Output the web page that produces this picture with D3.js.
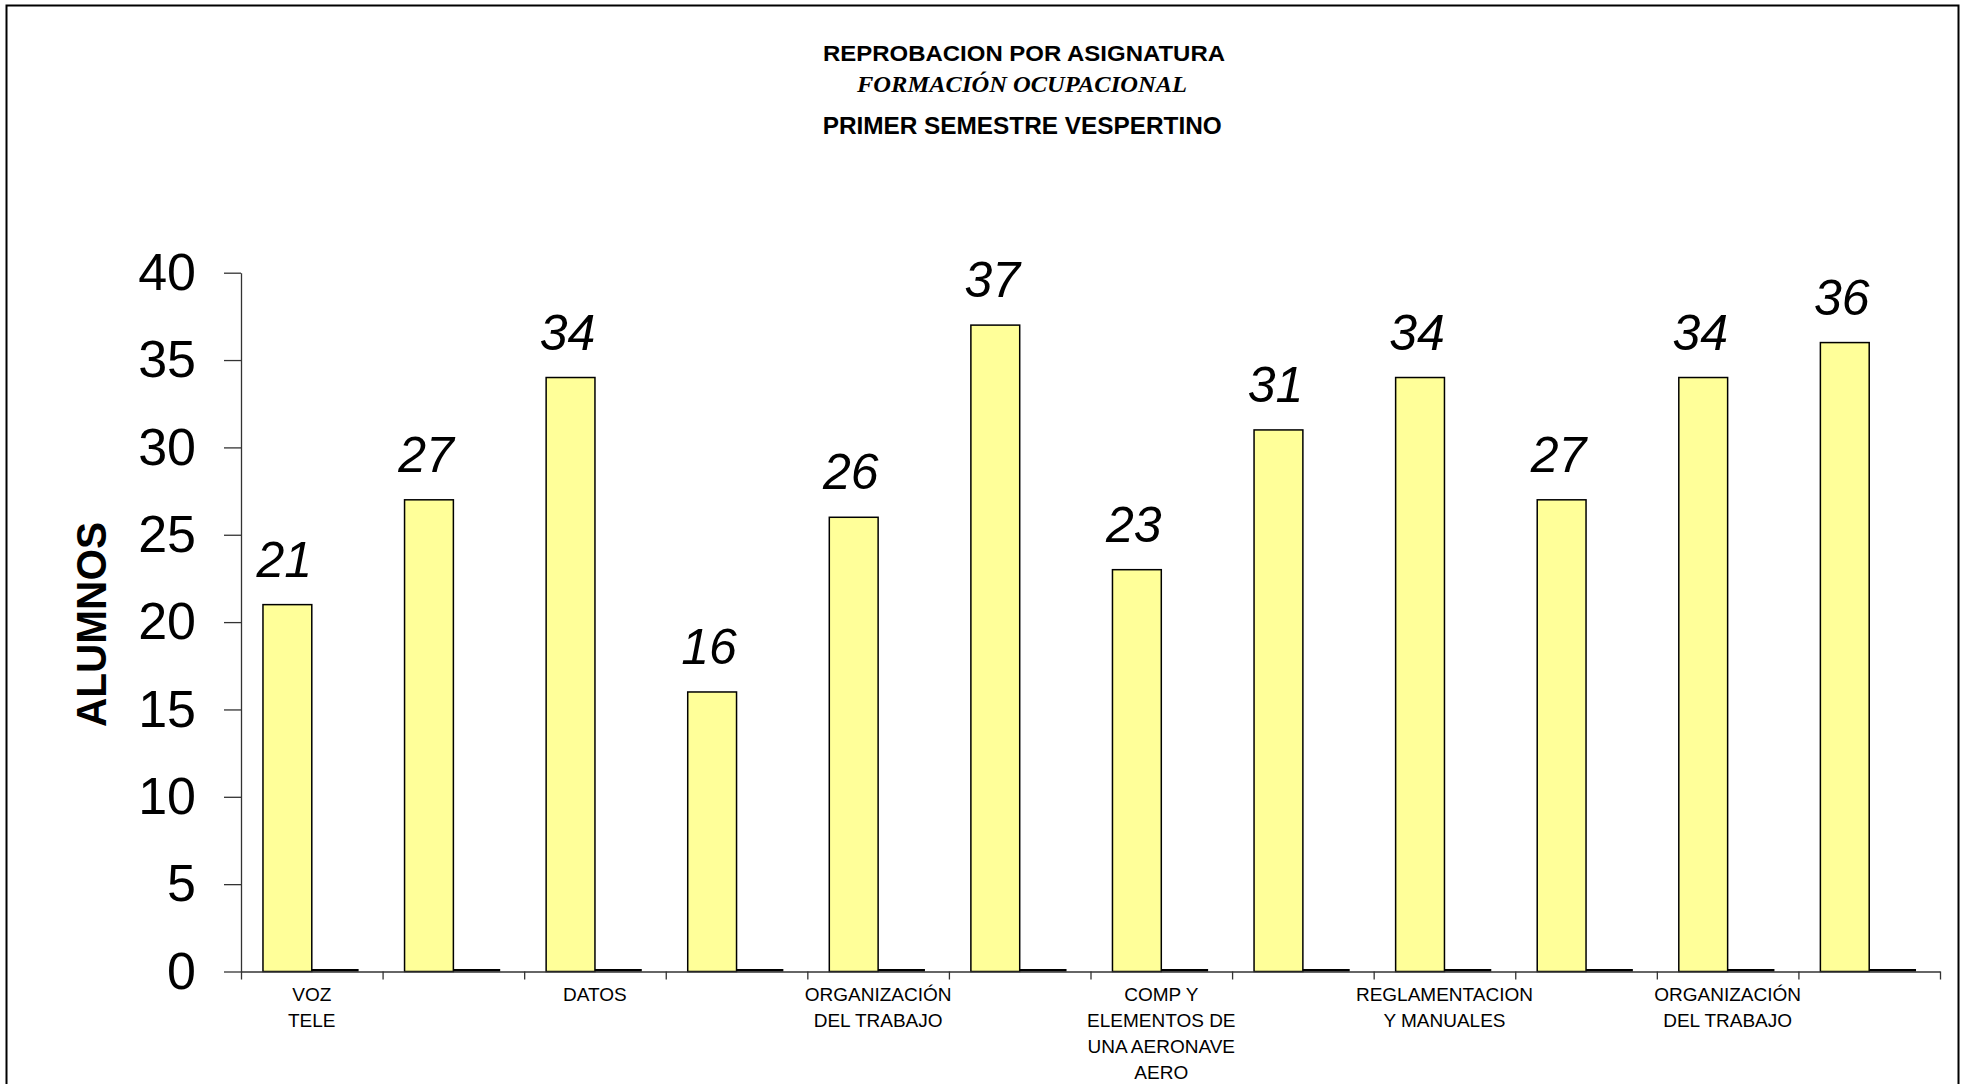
<!DOCTYPE html>
<html>
<head>
<meta charset="utf-8">
<script src="https://cdn.jsdelivr.net/npm/d3@7"></script>
<style>
  html, body { margin: 0; padding: 0; background: #fff; }
  svg { display: block; }
</style>
</head>
<body>
<script>
// ---- data ----
const categories = [
  "VOZ\nTELE", "", "DATOS", "", "ORGANIZACIÓN\nDEL TRABAJO", "",
  "COMP Y\nELEMENTOS DE\nUNA AERONAVE\nAERO", "", "REGLAMENTACION\nY MANUALES", "",
  "ORGANIZACIÓN\nDEL TRABAJO", ""
];
const reprobados = [21, 27, 34, 16, 26, 37, 23, 31, 34, 27, 34, 36];
const serie2 = [0, 0, 0, 0, 0, 0, 0, 0, 0, 0, 0, 0];
const yTicks = [0, 5, 10, 15, 20, 25, 30, 35, 40];
const titleLines = ["REPROBACION POR ASIGNATURA", "FORMACIÓN OCUPACIONAL", "PRIMER SEMESTRE VESPERTINO"];
const yTitle = "ALUMNOS";

// ---- layout ----
const W = 1965, H = 1084;
const plot = { left: 241, right: 1940, top: 272.7, bottom: 971.5 };

const svg = d3.select("body").append("svg").attr("width", W).attr("height", H);
svg.append("rect").attr("width", W).attr("height", H).attr("fill", "#fff");
svg.append("rect").attr("x", 6.5).attr("y", 5.5).attr("width", 1952).attr("height", 1100)
  .attr("fill", "none").attr("stroke", "#000").attr("stroke-width", 2);

// titles
svg.append("text").text(titleLines[0])
  .attr("x", 1024).attr("y", 60.7).attr("text-anchor", "middle")
  .attr("font-family", "Liberation Sans, Arial, sans-serif").attr("font-weight", "bold")
  .attr("font-size", 22).attr("textLength", 402).attr("lengthAdjust", "spacingAndGlyphs");
svg.append("text").text(titleLines[1])
  .attr("x", 1022).attr("y", 91.7).attr("text-anchor", "middle")
  .attr("font-family", "Liberation Serif, Times New Roman, serif").attr("font-weight", "bold").attr("font-style", "italic")
  .attr("font-size", 23).attr("textLength", 330).attr("lengthAdjust", "spacingAndGlyphs");
svg.append("text").text(titleLines[2])
  .attr("x", 1022.2).attr("y", 134.3).attr("text-anchor", "middle")
  .attr("font-family", "Liberation Sans, Arial, sans-serif").attr("font-weight", "bold")
  .attr("font-size", 23).attr("textLength", 399).attr("lengthAdjust", "spacingAndGlyphs");

// scales
const idx = d3.range(categories.length);
const x = d3.scaleBand().domain(idx).range([plot.left, plot.right]).paddingInner(0).paddingOuter(0);
const xs = d3.scaleBand().domain(["a", "b"]).range([0, x.bandwidth()]).paddingInner(0).paddingOuter(0.45);
const y = d3.scaleLinear().domain([0, 40]).range([plot.bottom, plot.top]);
const xLin = d3.scaleLinear().domain([0, categories.length]).range([plot.left, plot.right]);

// bars
const g = svg.append("g");
g.selectAll("rect.a").data(reprobados).join("rect").attr("class", "a")
  .attr("x", (d, i) => x(i) + xs("a"))
  .attr("y", d => y(d))
  .attr("width", xs.bandwidth())
  .attr("height", d => y(0) - y(d))
  .attr("fill", "#FFFF99").attr("stroke", "#000").attr("stroke-width", 1.5);

g.selectAll("rect.b").data(serie2).join("rect").attr("class", "b")
  .attr("x", (d, i) => x(i) + xs("b"))
  .attr("y", d => y(d) - 2.5)
  .attr("width", xs.bandwidth() - 2)
  .attr("height", d => y(0) - y(d) + 2.5)
  .attr("fill", "#000");

// value labels
g.selectAll("text.v").data(reprobados).join("text").attr("class", "v")
  .text(d => d)
  .attr("x", (d, i) => x(i) + xs("a") + xs.bandwidth() / 2 - 3)
  .attr("y", d => y(d) - 28)
  .attr("text-anchor", "middle")
  .attr("font-family", "Liberation Sans, Arial, sans-serif").attr("font-style", "italic")
  .attr("font-size", 50).attr("fill", "#000");

// y axis
const yAxis = svg.append("g").attr("transform", `translate(${plot.left},0)`)
  .call(d3.axisLeft(y).tickValues(yTicks).tickSize(17).tickPadding(28).tickSizeOuter(0));
yAxis.select(".domain").attr("stroke", "#333").attr("stroke-width", 1.3);
yAxis.selectAll(".tick line").attr("stroke", "#333").attr("stroke-width", 1.3);
yAxis.selectAll(".tick text").attr("font-family", "Liberation Sans, Arial, sans-serif")
  .attr("font-size", 52).attr("fill", "#000");

// x axis
const xAxis = svg.append("g").attr("transform", `translate(0,${plot.bottom})`)
  .call(d3.axisBottom(xLin).tickValues(d3.range(categories.length + 1)).tickSize(8).tickSizeOuter(0).tickFormat(""));
xAxis.select(".domain").attr("stroke", "#333").attr("stroke-width", 1.3);
xAxis.selectAll(".tick line").attr("stroke", "#333").attr("stroke-width", 1.3);

// category labels
const catG = svg.append("g");
categories.forEach((c, i) => {
  if (!c) return;
  const t = catG.append("text")
    .attr("x", x(i) + x.bandwidth() / 2)
    .attr("y", 1000.7)
    .attr("text-anchor", "middle")
    .attr("font-family", "Liberation Sans, Arial, sans-serif")
    .attr("font-size", 19).attr("fill", "#000");
  c.split("\n").forEach((line, j) => {
    t.append("tspan").attr("x", x(i) + x.bandwidth() / 2).attr("dy", j === 0 ? 0 : 26).text(line);
  });
});

// y axis title
svg.append("text").text(yTitle)
  .attr("transform", "translate(106,624.5) rotate(-90)")
  .attr("text-anchor", "middle")
  .attr("font-family", "Liberation Sans, Arial, sans-serif").attr("font-weight", "bold")
  .attr("font-size", 43).attr("textLength", 205).attr("lengthAdjust", "spacingAndGlyphs");
</script>
</body>
</html>
